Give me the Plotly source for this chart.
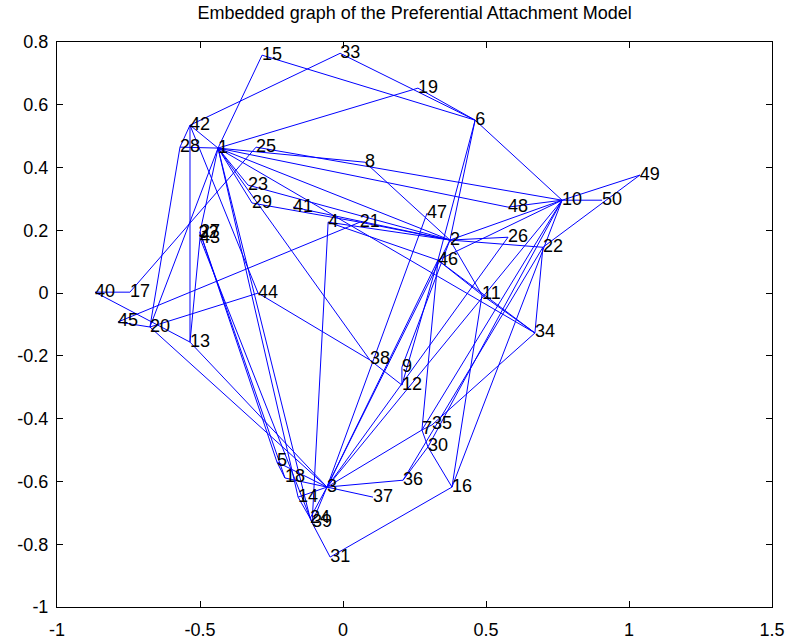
import plotly.graph_objects as go

# ---- data (node ids and embedded coordinates) ----
node_ids = [1, 2, 3, 4, 5, 6, 7, 8, 9, 10,
            11, 12, 13, 14, 15, 16, 17, 18, 19, 20,
            21, 22, 23, 24, 25, 26, 27, 28, 29, 30,
            31, 32, 33, 34, 35, 36, 37, 38, 39, 40,
            41, 42, 43, 44, 45, 46, 47, 48, 49, 50]
node_x = [-0.437, 0.374, -0.056, -0.052, -0.231, 0.462, 0.276, 0.077, 0.206, 0.766,
          0.486, 0.206, -0.535, -0.157, -0.283, 0.381, -0.745, -0.203, 0.262, -0.675,
          0.059, 0.699, -0.332, -0.115, -0.304, 0.577, -0.500, -0.570, -0.318, 0.297,
          -0.045, -0.505, -0.010, 0.671, 0.311, 0.210, 0.105, 0.094, -0.108, -0.867,
          -0.175, -0.535, -0.500, -0.297, -0.787, 0.332, 0.294, 0.577, 1.038, 0.906]
node_y = [0.462, 0.169, -0.618, 0.226, -0.538, 0.551, -0.436, 0.417, -0.236, 0.296,
          -0.006, -0.293, -0.156, -0.650, 0.758, -0.618, 0.003, -0.589, 0.653, -0.108,
          0.226, 0.146, 0.344, -0.717, 0.465, 0.178, 0.194, 0.465, 0.287, -0.490,
          -0.841, 0.190, 0.764, -0.127, -0.420, -0.596, -0.650, -0.213, -0.732, 0.003,
          0.274, 0.535, 0.175, 0.000, -0.092, 0.105, 0.255, 0.274, 0.376, 0.296]

edge_src = [15, 15, 33, 33, 19, 19, 6, 6, 6,
            42, 42, 42, 42, 28, 28, 1, 1, 1, 1, 1, 1, 1, 1, 1, 1, 1,
            8, 25, 17, 40, 40, 45, 20, 45, 20, 43, 27, 27, 27,
            23, 29, 41, 4, 21, 4, 4, 44,
            38, 9, 2, 46, 46, 11, 11, 22, 34,
            10, 10, 10, 10, 10, 10, 10, 10, 48, 26, 22, 22, 22, 26,
            2, 46, 47, 2, 46, 46,
            3, 3, 3, 3, 3, 3, 3, 3, 5, 14, 24, 39, 31, 16, 30, 30, 7, 43, 13]
edge_dst = [1, 6, 42, 6, 1, 6, 2, 46, 10,
            1, 28, 44, 13, 1, 20, 20, 8, 48, 2, 34, 38, 27, 14, 24, 23, 29,
            2, 10, 25, 17, 13, 20, 44, 21, 3, 13, 5, 18, 43,
            2, 21, 2, 2, 2, 39, 46, 38,
            12, 12, 11, 11, 34, 34, 16, 34, 35,
            49, 50, 2, 46, 3, 7, 30, 16, 10, 2, 2, 49, 36, 3,
            3, 3, 3, 9, 7, 12,
            5, 18, 14, 24, 39, 37, 36, 7, 18, 24, 39, 31, 16, 30, 36, 7, 35, 39, 3]

title_text = "Embedded graph of the Preferential Attachment Model"
x_ticks = [-1, -0.5, 0, 0.5, 1, 1.5]
x_tick_text = ["-1", "-0.5", "0", "0.5", "1", "1.5"]
y_ticks = [-1, -0.8, -0.6, -0.4, -0.2, 0, 0.2, 0.4, 0.6, 0.8]
y_tick_text = ["-1", "-0.8", "-0.6", "-0.4", "-0.2", "0", "0.2", "0.4", "0.6", "0.8"]

# ---- build figure ----
pos = {n: (x, y) for n, x, y in zip(node_ids, node_x, node_y)}
ex, ey = [], []
for s, d in zip(edge_src, edge_dst):
    ex += [pos[s][0], pos[d][0], None]
    ey += [pos[s][1], pos[d][1], None]

FONT = "Liberation Sans, Arial, sans-serif"
fig = go.Figure()
fig.add_trace(go.Scatter(x=ex, y=ey, mode="lines",
                         line=dict(color="#0000ff", width=1),
                         hoverinfo="skip", showlegend=False))
fig.add_trace(go.Scatter(x=node_x, y=node_y, mode="text",
                         text=[str(n) for n in node_ids],
                         textposition="middle right",
                         textfont=dict(family=FONT, size=18, color="black"),
                         showlegend=False))

axis_common = dict(showgrid=False, zeroline=False, showline=True, linecolor="black",
                   linewidth=1, mirror="ticks", ticks="inside", ticklen=6,
                   tickcolor="black", automargin=False,
                   tickfont=dict(family=FONT, size=18, color="black"))
fig.update_layout(
    width=796, height=642,
    margin=dict(l=57, r=24, t=42, b=35),
    paper_bgcolor="white", plot_bgcolor="white",
    title=dict(text=title_text, x=0.521, xanchor="center", y=0.98, yanchor="middle",
               yref="container", font=dict(family=FONT, size=18, color="black")),
    xaxis=dict(range=[-1, 1.5], tickvals=x_ticks, ticktext=x_tick_text,
               ticklabelstandoff=6, **axis_common),
    yaxis=dict(range=[-1, 0.8], tickvals=y_ticks, ticktext=y_tick_text,
               ticklabelstandoff=4, **axis_common),
)
fig.write_html("out.html")
